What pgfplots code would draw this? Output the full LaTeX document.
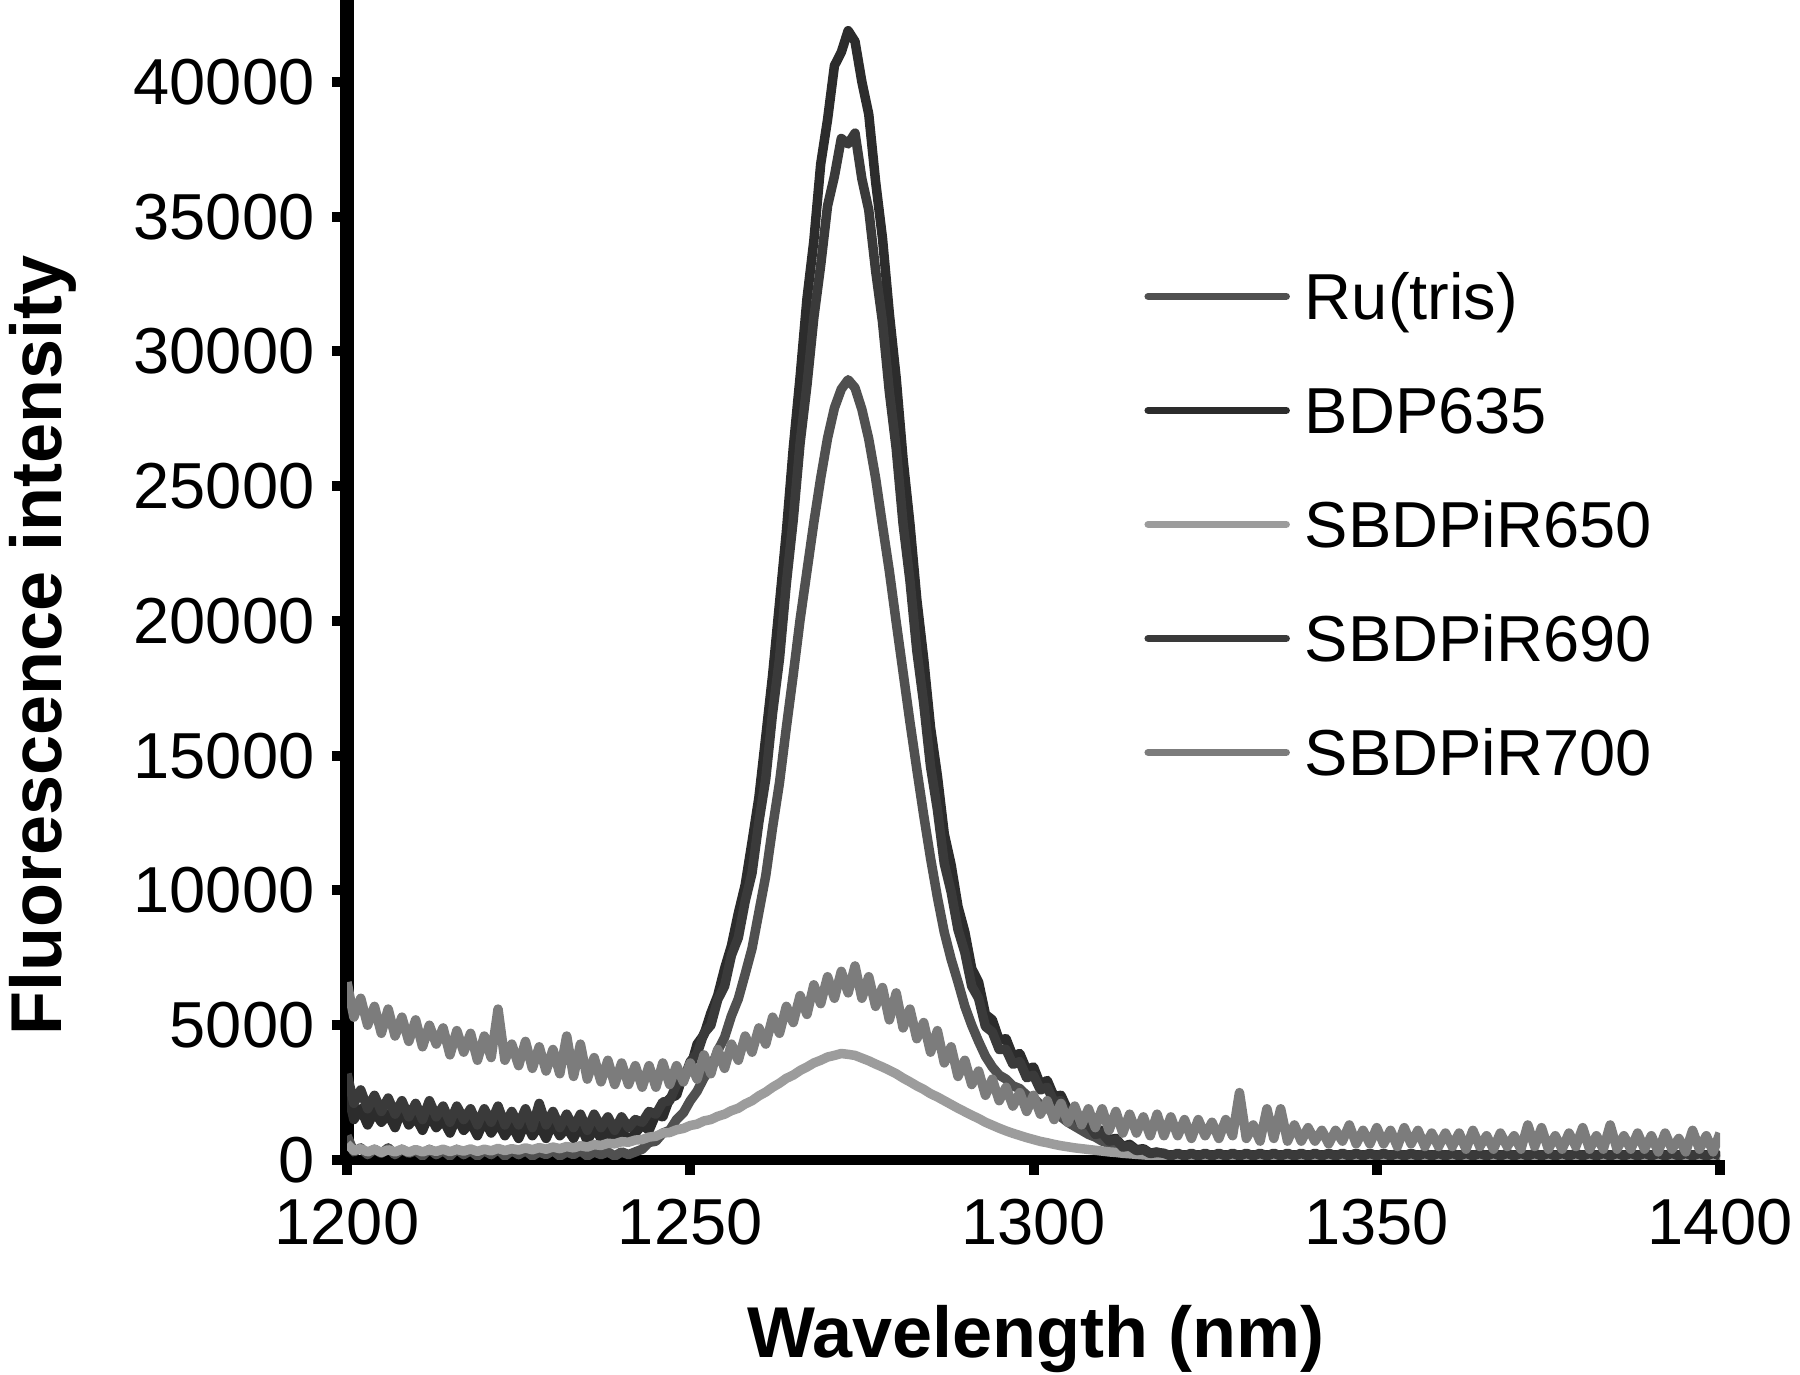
\documentclass[border=0pt]{standalone}
\usepackage{fontspec}
\setmainfont{Liberation Sans}
\usepackage{pgfplots}
\usepackage{pgfplotstable}
\pgfplotsset{compat=1.18}
\definecolor{cru}{HTML}{505050}
\definecolor{cbdp}{HTML}{2C2C2C}
\definecolor{cs650}{HTML}{9C9C9C}
\definecolor{cs690}{HTML}{3A3A3A}
\definecolor{cs700}{HTML}{7C7C7C}
\pgfplotstableread{
x ru bdp s650 s690 s700
1200 900 2600 600 3200 6600
1201 300 1500 350 2100 5300
1202 450 1900 420 2600 6000
1203 200 1300 300 1900 5000
1204 400 1800 400 2400 5700
1205 250 1400 280 1800 4700
1206 450 1700 380 2300 5600
1207 200 1200 300 1700 4600
1208 400 1900 400 2200 5300
1209 250 1300 290 1600 4400
1210 350 1600 390 2100 5200
1211 150 1100 300 1500 4200
1212 400 1700 380 2200 5000
1213 200 1200 320 1600 4300
1214 350 1500 400 2000 4900
1215 150 1000 310 1400 3900
1216 400 1600 390 2000 4800
1217 200 1100 330 1500 4000
1218 350 1400 410 1900 4700
1219 150 900 320 1300 3700
1220 350 1500 400 1900 4600
1221 200 1000 340 1400 3800
1222 400 1400 430 2000 5600
1223 150 900 350 1300 3700
1224 350 1300 420 1800 4300
1225 200 800 370 1300 3500
1226 350 1400 450 1900 4400
1227 150 900 380 1200 3400
1228 300 1300 460 2100 4200
1229 200 800 400 1300 3300
1230 350 1400 480 1800 4100
1231 150 900 420 1200 3200
1232 300 1200 500 1700 4600
1233 200 800 450 1200 3100
1234 350 1300 530 1700 4300
1235 150 700 480 1100 3000
1236 300 1200 570 1700 3800
1237 200 800 540 1200 2900
1238 300 1100 620 1600 3700
1239 150 700 600 1100 2800
1240 300 1100 680 1600 3600
1241 200 700 660 1200 2800
1242 300 1000 740 1500 3500
1243 400 1300 760 1400 2700
1244 650 1100 850 1800 3500
1245 700 1700 880 1700 2700
1246 1000 1600 1000 2150 3600
1247 1100 2300 1020 2200 2800
1248 1500 2400 1120 2800 3500
1249 1750 3200 1170 2950 2900
1250 2200 3400 1280 3650 3600
1251 2550 4300 1330 3950 3000
1252 3050 4650 1450 4700 3900
1253 3400 5450 1500 5000 3200
1254 4050 6100 1620 5950 4100
1255 4550 7100 1700 6450 3400
1256 5350 7950 1830 7600 4300
1257 5980 9150 1920 8250 3700
1258 6900 10200 2080 9600 4600
1259 7850 11800 2200 10650 4000
1260 9200 13450 2380 12550 4900
1261 10550 15700 2520 14150 4300
1262 12350 18000 2700 16600 5300
1263 14000 20650 2850 18600 4700
1264 16050 23300 3030 21400 5700
1265 18000 26400 3150 23750 5100
1266 20050 29050 3320 26600 6100
1267 21850 31950 3450 28750 5400
1268 23650 34100 3600 31250 6500
1269 25300 36950 3700 33200 5800
1270 26780 38600 3820 35400 6800
1271 27900 40600 3880 36500 6000
1272 28600 41100 3950 37900 7000
1273 28950 41900 3920 37700 6200
1274 28650 41500 3880 38100 7200
1275 27850 40000 3780 36400 6000
1276 26750 38800 3680 35250 6800
1277 25300 36300 3560 33000 5700
1278 23550 34200 3450 31100 6400
1279 21850 31400 3330 28500 5200
1280 19950 29000 3200 26400 6200
1281 18100 26000 3040 23600 4900
1282 16250 23600 2900 21500 5600
1283 14500 20800 2750 18900 4500
1284 12800 18600 2620 16950 5100
1285 11200 16050 2460 14600 4000
1286 9750 14250 2340 13000 4800
1287 8450 12100 2200 11000 3600
1288 7450 10950 2060 9950 4200
1289 6600 9400 1920 8550 3100
1290 5700 8450 1790 7700 3700
1291 5000 7100 1660 6450 2800
1292 4400 6600 1540 6000 3300
1293 3850 5400 1400 4950 2400
1294 3450 5200 1290 4750 3000
1295 3150 4450 1180 4100 2200
1296 3000 4500 1080 4100 2700
1297 2750 3850 990 3550 2000
1298 2650 3950 910 3650 2500
1299 2400 3350 830 3050 1800
1300 2300 3450 760 3150 2400
1301 2050 2800 690 2600 1700
1302 1950 2950 640 2700 2200
1303 1700 2350 580 2150 1500
1304 1600 2400 530 2200 2100
1305 1400 1850 490 1700 1400
1306 1250 1900 450 1750 2000
1307 1100 1400 420 1300 1300
1308 950 1450 390 1350 1900
1309 850 1050 360 950 1200
1310 700 1100 330 1000 1900
1311 620 750 300 700 1100
1312 500 800 280 750 1800
1313 450 500 250 480 1000
1314 380 580 230 520 1700
1315 330 380 210 350 1000
1316 270 420 190 380 1600
1317 240 250 170 240 900
1318 200 300 160 280 1700
1319 180 120 150 250 900
1320 120 200 100 150 1600
1321 180 120 150 250 900
1322 120 200 100 150 1500
1323 180 120 150 250 800
1324 120 200 100 150 1500
1325 180 120 150 250 900
1326 120 200 100 150 1400
1327 180 120 150 250 800
1328 120 200 100 150 1500
1329 180 120 150 250 900
1330 120 200 100 150 2500
1331 180 120 150 250 800
1332 120 200 100 150 1300
1333 180 120 150 250 700
1334 120 200 100 150 1900
1335 180 120 150 250 800
1336 120 200 100 150 1900
1337 180 120 150 250 700
1338 120 200 100 150 1300
1339 180 120 150 250 700
1340 120 200 100 150 1200
1341 180 120 150 250 700
1342 120 200 100 150 1100
1343 180 120 150 250 600
1344 120 200 100 150 1100
1345 180 120 150 250 700
1346 120 200 100 150 1300
1347 180 120 150 250 600
1348 120 200 100 150 1100
1349 180 120 150 250 600
1350 120 200 100 150 1200
1351 180 120 150 250 600
1352 120 200 100 150 1100
1353 180 120 150 250 500
1354 120 200 100 150 1200
1355 180 120 150 250 600
1356 120 200 100 150 1100
1357 180 120 150 250 500
1358 120 200 100 150 1000
1359 180 120 150 250 500
1360 120 200 100 150 1000
1361 180 120 150 250 500
1362 120 200 100 150 1000
1363 180 120 150 250 400
1364 120 200 100 150 1100
1365 180 120 150 250 500
1366 120 200 100 150 900
1367 180 120 150 250 400
1368 120 200 100 150 1000
1369 180 120 150 250 500
1370 120 200 100 150 900
1371 180 120 150 250 400
1372 120 200 100 150 1300
1373 180 120 150 250 500
1374 120 200 100 150 1200
1375 180 120 150 250 400
1376 120 200 100 150 900
1377 180 120 150 250 400
1378 120 200 100 150 1000
1379 180 120 150 250 500
1380 120 200 100 150 1200
1381 180 120 150 250 400
1382 120 200 100 150 900
1383 180 120 150 250 400
1384 120 200 100 150 1300
1385 180 120 150 250 400
1386 120 200 100 150 900
1387 180 120 150 250 400
1388 120 200 100 150 1000
1389 180 120 150 250 400
1390 120 200 100 150 900
1391 180 120 150 250 300
1392 120 200 100 150 1000
1393 180 120 150 250 400
1394 120 200 100 150 800
1395 180 120 150 250 300
1396 120 200 100 150 1100
1397 180 120 150 250 400
1398 120 200 100 150 900
1399 180 120 150 250 300
1400 120 200 100 150 1000
}\spectra

\begin{document}
\begin{tikzpicture}
\begin{axis}[
  name=ax, at={(0,0)}, anchor=south west,
  scale only axis, width=274.6pt, height=232pt,
  xmin=1200, xmax=1400, ymin=0, ymax=43040,
  axis x line=bottom, axis y line=left,
  x axis line style={-, line width=2pt},
  y axis line style={-, line width=2.8pt},
  xtick={1200,1250,1300,1350,1400},
  ytick={0,5000,10000,15000,20000,25000,30000,35000,40000},
  minor tick num=0,
  tick align=outside, major tick length=3pt,
  every tick/.style={black, line width=2pt},
  scaled y ticks=false, scaled x ticks=false,
  /pgf/number format/1000 sep={},
  /pgf/number format/assume math mode=true,
  tick label style={font=\fontsize{13}{15}\selectfont, black},
  xticklabel style={yshift=-1.3pt},
  legend style={draw=none, fill=none, at={(rel axis cs:0.5808,0.774)}, anchor=north west,
    inner sep=0pt, outer sep=0pt, row sep=9.1pt, column sep=3pt,
    font=\fontsize{13}{15}\selectfont,
    nodes={inner sep=0pt, text height=11.5pt, text depth=2.2pt}},
  legend cell align=left,
  legend image code/.code={\draw[#1, line width=1.5pt, line cap=round] (0pt,0pt) -- (27.6pt,0pt);},
  every axis plot/.append style={line width=1.9pt, line join=round},
]
\addplot[cru] table[x=x, y=ru] {\spectra};
\addlegendentry{Ru(tris)}
\addplot[cbdp] table[x=x, y=bdp] {\spectra};
\addlegendentry{BDP635}
\addplot[cs650] table[x=x, y=s650] {\spectra};
\addlegendentry{SBDPiR650}
\addplot[cs690] table[x=x, y=s690] {\spectra};
\addlegendentry{SBDPiR690}
\addplot[cs700] table[x=x, y=s700] {\spectra};
\addlegendentry{SBDPiR700}
\end{axis}
\node[rotate=90, anchor=base, font=\fontsize{14.4}{16}\selectfont\bfseries] at ([xshift=-57pt, yshift=102.9pt]ax.south west) {Fluorescence intensity};
\node[anchor=base, font=\fontsize{14.4}{16}\selectfont\bfseries] at ([xshift=0.5pt, yshift=-39.4pt]ax.south) {Wavelength (nm)};
\pgfresetboundingbox
\path[use as bounding box] ([xshift=-69.4pt, yshift=-42.8pt]ax.south west) rectangle ([xshift=16pt]ax.north east);
\end{tikzpicture}
\end{document}
